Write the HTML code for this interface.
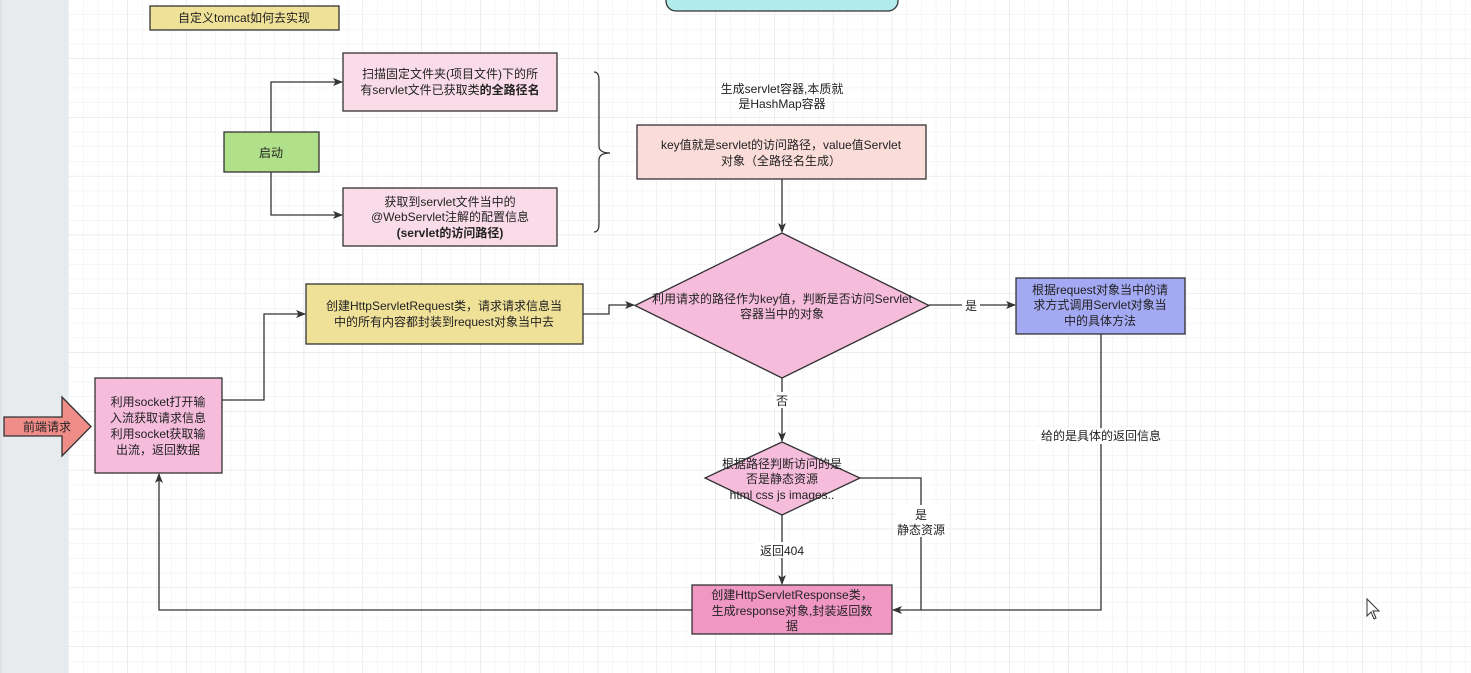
<!DOCTYPE html>
<html><head><meta charset="utf-8"><style>
html,body{margin:0;padding:0;width:1471px;height:673px;overflow:hidden;background:#fff}
svg{display:block}
text{font-family:"Liberation Sans","Noto Sans CJK SC",sans-serif;font-size:12px;fill:#222;text-anchor:middle}
</style></head><body>
<svg width="1471" height="673" viewBox="0 0 1471 673" xmlns="http://www.w3.org/2000/svg">
<defs>
<pattern id="g" x="69" y="0" width="14.7" height="14.7" patternUnits="userSpaceOnUse">
<path d="M14.7 0V14.7M0 14.7H14.7" stroke="#ececec" stroke-width="1" fill="none"/></pattern>
<pattern id="G" x="69" y="0" width="58.8" height="58.8" patternUnits="userSpaceOnUse">
<path d="M58.8 0V58.8M0 58.8H58.8" stroke="#e2e2e2" stroke-width="1" fill="none"/></pattern>
<marker id="a" markerWidth="10" markerHeight="8" refX="9" refY="4" orient="auto" markerUnits="userSpaceOnUse"><path d="M0 0L10 4L0 8L2.5 4Z" fill="#333"/></marker>
</defs>
<rect width="1471" height="673" fill="url(#g)"/>
<rect width="1471" height="673" fill="url(#G)"/>
<rect x="0" y="0" width="68" height="673" fill="#e8ebed"/>
<line x1="1" y1="0" x2="1" y2="673" stroke="#d5d8da"/>

<g stroke="#333" stroke-width="1.3" fill="none">
<rect x="150" y="6" width="189" height="24" fill="#f0e199"/>
<rect x="666" y="-12" width="232" height="23" rx="10" fill="#b2ebec"/>
<rect x="343" y="53" width="214" height="58" fill="#fadce9"/>
<rect x="224" y="132" width="95" height="40" fill="#b0e18a"/>
<rect x="343" y="188" width="214" height="58" fill="#fadce9"/>
<rect x="306" y="284" width="277" height="60" fill="#f0e199"/>
<rect x="95" y="378" width="127" height="95" fill="#f5bcdc"/>
<path d="M4 417H62V397L91 426.5L62 456V436H4Z" fill="#f08d89"/>
<rect x="637" y="125" width="289" height="54" fill="#fadcd8"/>
<path d="M782 233L929 305.5L782 378L635 305.5Z" fill="#f5bcdc"/>
<rect x="1016" y="278" width="169" height="56" fill="#a3a9f2"/>
<path d="M782 442L860 478L782 515L705 478Z" fill="#f5bcdc"/>
<rect x="692" y="585" width="200" height="49" fill="#f197c4"/>
<path d="M594 72Q599 72 599 80V146Q599 153 610 153Q599 153 599 160V224Q599 232 594 232" stroke-width="1.2"/>
<path d="M271 132V82H342" marker-end="url(#a)"/>
<path d="M271 172V215H342" marker-end="url(#a)"/>
<path d="M222 400H264V314H305" marker-end="url(#a)"/>
<path d="M583 314H609V305H634" marker-end="url(#a)"/>
<path d="M782 179V232" marker-end="url(#a)"/>
<path d="M929 305H1015" marker-end="url(#a)"/>
<path d="M782 378V441" marker-end="url(#a)"/>
<path d="M782 515V584" marker-end="url(#a)"/>
<path d="M860 478H921V610H893" marker-end="url(#a)"/>
<path d="M1101 334V610H921"/>
<path d="M692 610H159V474" marker-end="url(#a)"/>
</g>
<g>
<rect x="962" y="297" width="18" height="16" fill="#fff"/>
<rect x="772" y="392" width="20" height="16" fill="#fff"/>
<rect x="755" y="542" width="54" height="16" fill="#fff"/>
<rect x="895" y="505" width="52" height="32" fill="#fff"/>
<rect x="1036" y="428" width="130" height="16" fill="#fff"/>
</g>
<text x="244" y="22">自定义tomcat如何去实现</text>
<text x="450" y="78">扫描固定文件夹(项目文件)下的所</text>
<text x="450" y="94">有servlet文件已获取类<tspan font-weight="bold">的全路径名</tspan></text>
<text x="271" y="157">启动</text>
<text x="450" y="206">获取到servlet文件当中的</text>
<text x="450" y="221">@WebServlet注解的配置信息</text>
<text x="450" y="237" font-weight="bold">(servlet的访问路径)</text>
<text x="444" y="310">创建HttpServletRequest类，请求请求信息当</text>
<text x="444" y="326">中的所有内容都封装到request对象当中去</text>
<text x="158" y="406">利用socket打开输</text>
<text x="158" y="422">入流获取请求信息</text>
<text x="158" y="438">利用socket获取输</text>
<text x="158" y="454">出流，返回数据</text>
<text x="47" y="431">前端请求</text>
<text x="782" y="93">生成servlet容器,本质就</text>
<text x="782" y="108">是HashMap容器</text>
<text x="781" y="149">key值就是servlet的访问路径，value值Servlet</text>
<text x="781" y="165">对象（全路径名生成）</text>
<text x="782" y="303">利用请求的路径作为key值，判断是否访问Servlet</text>
<text x="782" y="318">容器当中的对象</text>
<text x="1100" y="294">根据request对象当中的请</text>
<text x="1100" y="309">求方式调用Servlet对象当</text>
<text x="1100" y="325">中的具体方法</text>
<text x="971" y="310">是</text>
<text x="782" y="405">否</text>
<text x="782" y="468">根据路径判断访问的是</text>
<text x="782" y="483">否是静态资源</text>
<text x="782" y="499">html css js images..</text>
<text x="782" y="555">返回404</text>
<text x="921" y="519">是</text>
<text x="921" y="534">静态资源</text>
<text x="1101" y="440">给的是具体的返回信息</text>
<text x="792" y="599">创建HttpServletResponse类，</text>
<text x="792" y="615">生成response对象,封装返回数</text>
<text x="792" y="630">据</text>
<path d="M1367 599V616L1371 612L1374 619L1376 618L1373 611L1379 611Z" fill="#fff" stroke="#333" stroke-width="1"/>
</svg>
</body></html>
